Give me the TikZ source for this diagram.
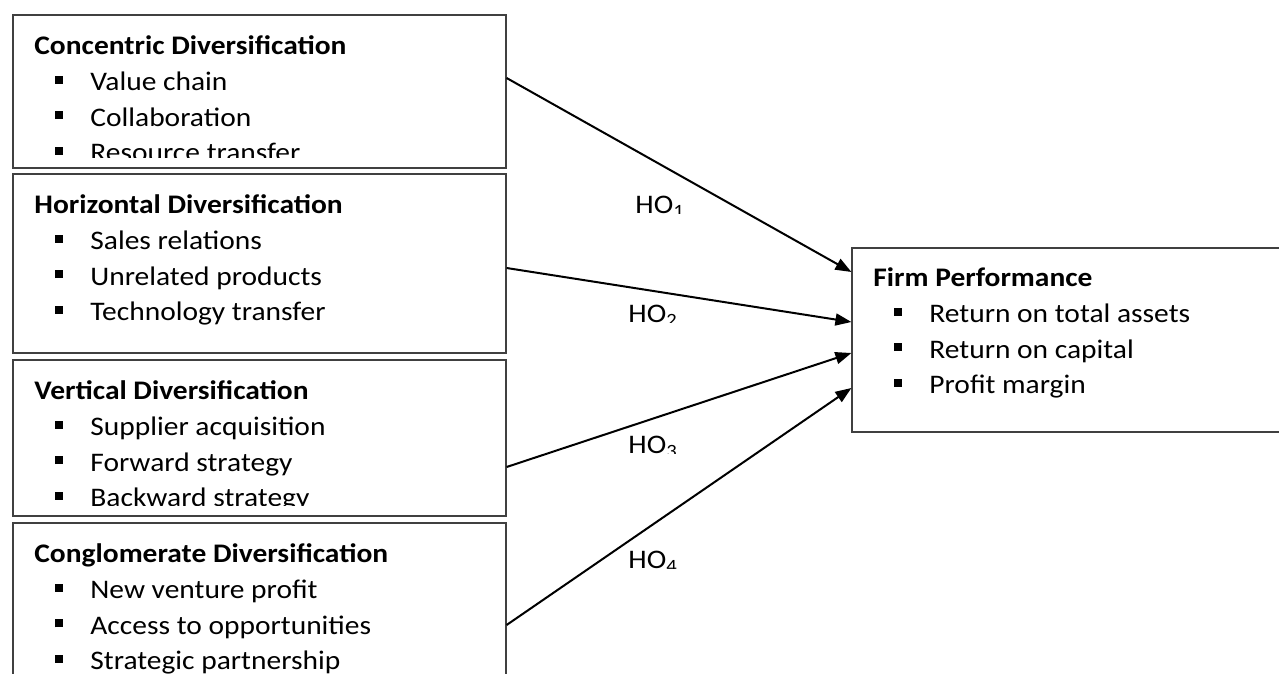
\documentclass[tikz,border=0pt]{standalone}
\usepackage{fontspec}
\setmainfont{Carlito}[FakeStretch=1.1]
\usetikzlibrary{arrows.meta}
\newcommand{\itm}[1]{\hspace*{10.5pt}\makebox[17.5pt][l]{\rule[3.5pt]{4pt}{4pt}}#1}

\begin{document}
\begin{tikzpicture}[x=0.5pt, y=-0.5pt,
    box/.style={draw=black!75, line width=0.6pt, inner sep=0pt},
    txt/.style={anchor=north west, inner sep=0pt, align=left, font=\fontsize{13.4}{17.75}\selectfont},
    hyp/.style={-{Triangle[length=8pt,width=6pt]}, line width=1pt},
    lab/.style={anchor=base west, font=\fontsize{13.4}{16}\selectfont, inner sep=0pt}]
  \clip (0,0) rectangle (1279,674);

  % boxes
  \node[box, minimum width=246.5pt, minimum height=76.5pt] (c1) at (259.5,91.5) {};
  \node[box, minimum width=246.5pt, minimum height=89.5pt] (c2) at (259.5,263.5) {};
  \node[box, minimum width=246.5pt, minimum height=78pt] (c3) at (259.5,438) {};
  \node[box, minimum width=246.5pt, minimum height=88.5pt] (c4) at (259.5,611.5) {};
  \node[box, minimum width=224pt, minimum height=92pt] (perf) at (1076,340) {};

  % texts, cut off at the box bottoms
  \begin{scope}
    \clip ([yshift=5.5pt]c1.south west) rectangle (c1.north east);
    \node[txt] (t1) at (34,35) {\textbf{Concentric Diversification}\\[0.5pt]
      \itm{Value chain}\\ \itm{Collaboration}\\ \itm{Resource transfer}};
  \end{scope}
  \begin{scope}
    \clip ([yshift=5.5pt]c2.south west) rectangle (c2.north east);
    \node[txt] (t2) at (34,194) {\textbf{Horizontal Diversification}\\[0.5pt]
      \itm{Sales relations}\\ \itm{Unrelated products}\\ \itm{Technology transfer}};
  \end{scope}
  \begin{scope}
    \clip ([yshift=5.5pt]c3.south west) rectangle (c3.north east);
    \node[txt] (t3) at (34,380) {\textbf{Vertical Diversification}\\[0.5pt]
      \itm{Supplier acquisition}\\ \itm{Forward strategy}\\ \itm{Backward strategy}};
  \end{scope}
  \begin{scope}
    \clip ([yshift=5.5pt]c4.south west) rectangle (c4.north east);
    \node[txt] (t4) at (34,543) {\textbf{Conglomerate Diversification}\\[0.5pt]
      \itm{New venture profit}\\ \itm{Access to opportunities}\\ \itm{Strategic partnership}};
  \end{scope}
  \node[txt] (t5) at (873,267) {\textbf{Firm Performance}\\[0.5pt]
    \itm{Return on total assets}\\ \itm{Return on capital}\\ \itm{Profit margin}};

  % hypotheses
  \draw[hyp] ([yshift=6.75pt]c1.east) -- ([yshift=34pt]perf.west);
  \draw[hyp] ([yshift=-2.25pt]c2.east) -- ([yshift=9pt]perf.west);
  \draw[hyp] ([yshift=-14.5pt]c3.east) -- ([yshift=-6.5pt]perf.west);
  \draw[hyp] ([yshift=-6.75pt]c4.east) -- ([yshift=-24pt]perf.west);

  \begin{scope}
    \clip (600,180) rectangle (720,213) (600,290) rectangle (720,322)
          (600,420) rectangle (720,453) (600,535) rectangle (720,568);
    \node[lab] (h1) at (635,213) {HO\textsubscript{1}};
    \node[lab] (h2) at (628,322) {HO\textsubscript{2}};
    \node[lab] (h3) at (628,453) {HO\textsubscript{3}};
    \node[lab] (h4) at (628,568) {HO\textsubscript{4}};
  \end{scope}
\end{tikzpicture}
\end{document}
